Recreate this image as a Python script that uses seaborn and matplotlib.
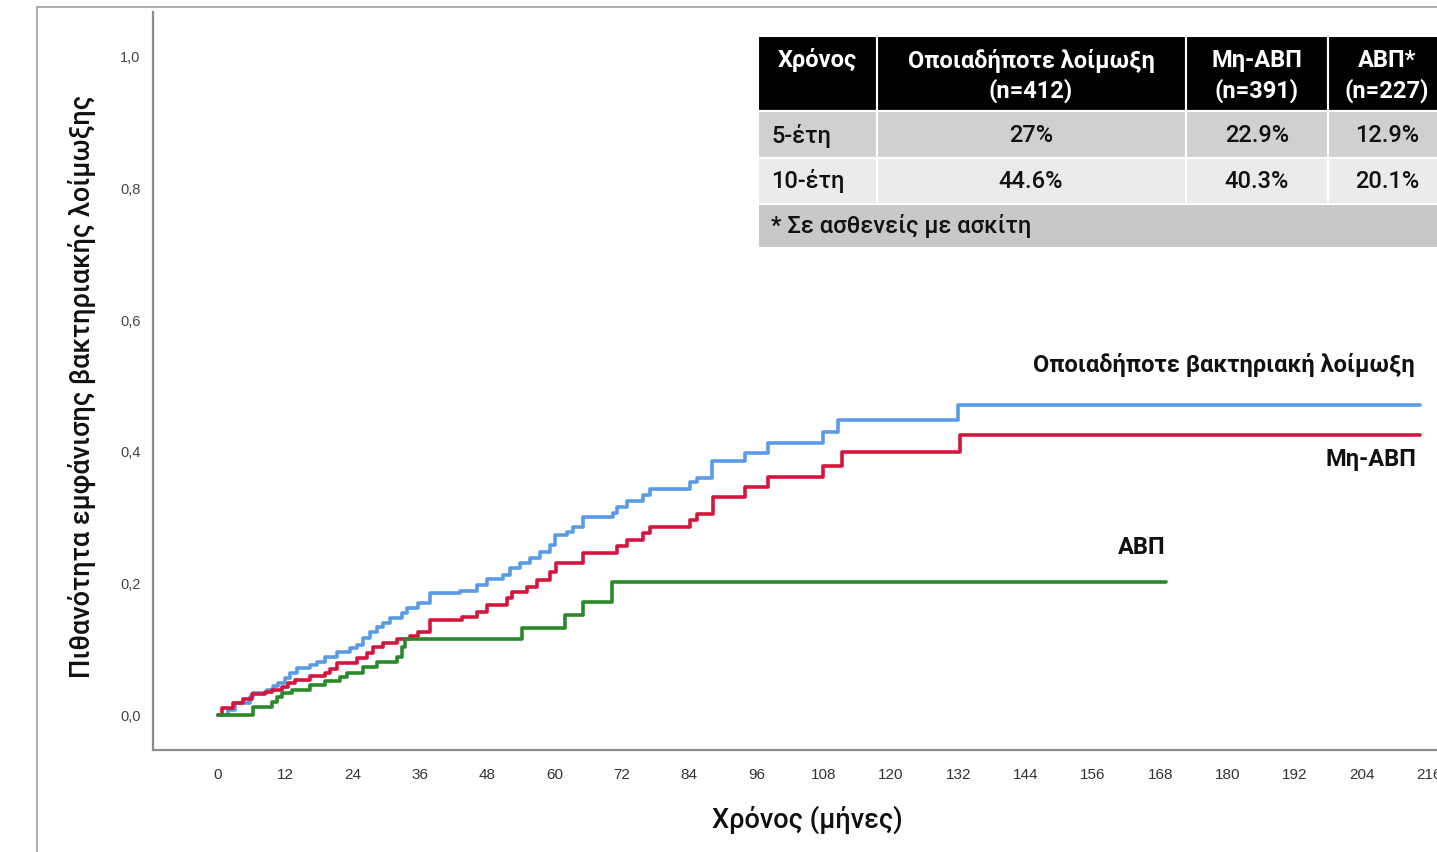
import numpy as np
import pandas as pd
import matplotlib
matplotlib.use("Agg")
import matplotlib.pyplot as plt
from matplotlib.patches import Rectangle
from matplotlib.lines import Line2D
import seaborn as sns

# Step curves (months, cumulative probability)
any_months = [0, 1.8, 3.0, 5.7, 6.2, 8.7, 9.8, 10.7, 11.9, 12.8, 14.1, 16.4, 17.6, 19.1, 21.2,
              23.5, 24.8, 25.8, 27.1, 28.3, 29.4, 30.7, 32.8, 33.7, 35.7, 37.8, 43.1, 46.2,
              47.9, 50.8, 52.0, 53.8, 55.6, 57.4, 59.2, 60.1, 62.2, 63.3, 65.1, 70.4, 71.1,
              72.9, 75.8, 77.0, 84.1, 85.4, 88.1, 93.9, 98.0, 107.8, 110.5, 131.9, 214.3]
any_prob = [0, 0.008, 0.018, 0.027, 0.033, 0.038, 0.044, 0.049, 0.056, 0.064, 0.071, 0.076,
            0.081, 0.088, 0.096, 0.102, 0.106, 0.117, 0.126, 0.134, 0.140, 0.147, 0.155,
            0.163, 0.170, 0.185, 0.188, 0.198, 0.207, 0.213, 0.223, 0.231, 0.239, 0.248,
            0.258, 0.274, 0.278, 0.286, 0.301, 0.307, 0.316, 0.325, 0.334, 0.343, 0.354,
            0.360, 0.386, 0.398, 0.413, 0.430, 0.448, 0.471, 0.471]

nonsbp_months = [0, 0.7, 2.7, 4.5, 6.1, 8.4, 9.6, 11.4, 12.5, 13.7, 16.4, 19.1, 20.0, 21.2,
                 24.8, 26.6, 27.6, 29.4, 31.9, 34.2, 35.7, 37.8, 43.5, 46.2, 47.9, 51.5, 52.4,
                 55.1, 56.9, 59.2, 60.2, 65.1, 71.1, 72.9, 75.8, 77.0, 84.1, 85.4, 88.2, 93.9,
                 98.0, 107.8, 111.2, 132.3, 214.3]
nonsbp_prob = [0, 0.011, 0.018, 0.024, 0.032, 0.035, 0.038, 0.043, 0.049, 0.053, 0.059, 0.064,
               0.070, 0.079, 0.087, 0.094, 0.103, 0.109, 0.116, 0.120, 0.126, 0.144, 0.149,
               0.157, 0.167, 0.178, 0.187, 0.195, 0.205, 0.217, 0.231, 0.246, 0.257, 0.266,
               0.277, 0.286, 0.296, 0.305, 0.331, 0.347, 0.362, 0.378, 0.400, 0.426, 0.426]

sbp_months = [0, 6.2, 9.6, 10.5, 11.4, 13.2, 16.4, 19.1, 21.7, 23.0, 25.8, 28.3, 31.9, 32.8,
              33.3, 54.2, 61.9, 65.1, 70.2, 169.0]
sbp_prob = [0, 0.012, 0.020, 0.027, 0.033, 0.038, 0.046, 0.052, 0.058, 0.064, 0.073, 0.081,
            0.088, 0.103, 0.116, 0.132, 0.152, 0.172, 0.202, 0.202]

group_names = ["Οποιαδήποτε βακτηριακή λοίμωξη", "Μη-ΑΒΠ", "ΑΒΠ"]
group_colors = ["#5b9be6", "#d5153d", "#2a8a2a"]

x_ticks = list(range(0, 217, 12))
y_ticks = [0.0, 0.2, 0.4, 0.6, 0.8, 1.0]
y_tick_labels = ["0,0", "0,2", "0,4", "0,6", "0,8", "1,0"]

# Table in the corner
table_header = ["Χρόνος", "Οποιαδήποτε λοίμωξη\n(n=412)", "Μη-ΑΒΠ\n(n=391)", "ΑΒΠ*\n(n=227)"]
table_rows = [["5-έτη", "27%", "22.9%", "12.9%"],
              ["10-έτη", "44.6%", "40.3%", "20.1%"]]
table_note = "* Σε ασθενείς με ασκίτη"


def buildFrame():
    parts = []
    for name, m, p in zip(group_names, [any_months, nonsbp_months, sbp_months],
                          [any_prob, nonsbp_prob, sbp_prob]):
        parts.append(pd.DataFrame({"month": m, "prob": p, "group": name}))
    return pd.concat(parts, ignore_index=True)


W, H = 1437, 852


def fx(px):
    return px / W


def fy(py):
    return 1 - py / H


sns.set_style("white")
plt.rcParams["font.family"] = ["Roboto", "DejaVu Sans"]

df = buildFrame()

fig = plt.figure(figsize=(W / 100, H / 100), dpi=100)

# outer frame
fig.add_artist(Line2D([fx(37), fx(37)], [0, fy(7)], color="#a0a0a0", lw=1.2))
fig.add_artist(Line2D([fx(37), 1], [fy(7), fy(7)], color="#a0a0a0", lw=1.2))

ax = fig.add_axes([fx(153), fy(750), fx(1463) - fx(153), fy(12) - fy(750)])
sns.lineplot(data=df, x="month", y="prob", hue="group", palette=dict(zip(group_names, group_colors)),
             estimator=None, sort=False, drawstyle="steps-post", linewidth=2.6, legend=False, ax=ax)

ax.set_xlim(-11.6, 222)
ax.set_ylim(-0.053, 1.068)
ax.set_xticks(x_ticks)
ax.set_xticklabels([str(t) for t in x_ticks], fontsize=11, color="#333333",
                   family=["Liberation Sans Narrow", "Liberation Sans", "DejaVu Sans"])
ax.set_yticks(y_ticks)
ax.set_yticklabels(y_tick_labels, fontsize=10.5, color="#444444", family=["Liberation Sans", "DejaVu Sans"])
ax.tick_params(axis="x", length=0, pad=13)
ax.tick_params(axis="y", length=0, pad=9)
for s in ["top", "right"]:
    ax.spines[s].set_visible(False)
for s in ["left", "bottom"]:
    ax.spines[s].set_color("#8c8c8c")
    ax.spines[s].set_linewidth(1.6)
ax.set_xlabel("")
ax.set_ylabel("")

fig.text(fx(807), fy(820), "Χρόνος (μήνες)", ha="center", va="center", fontsize=19.5,
         fontweight="medium", color="#111111")
fig.text(fx(82), fy(387), "Πιθανότητα εμφάνισης βακτηριακής λοίμωξης", ha="center", va="center",
         rotation=90, fontsize=19.5, fontweight="medium", color="#111111")

# curve labels
ax.text(213.4, 0.532, group_names[0], ha="right", va="center", fontsize=17, fontweight="bold", color="#111111")
ax.text(213.6, 0.389, group_names[1], ha="right", va="center", fontsize=17, fontweight="bold", color="#111111")
ax.text(169.0, 0.255, group_names[2], ha="right", va="center", fontsize=17, fontweight="bold", color="#111111")

# table drawn as patches
col_edges = [758, 877, 1186, 1328, 1470]
row_edges = [36, 111, 158, 204, 248]
row_fill = ["#000000", "#d0d0d0", "#ebebeb", "#c8c8c8"]
for r in range(4):
    y0, y1 = row_edges[r], row_edges[r + 1]
    if r == 3:
        fig.add_artist(Rectangle((fx(col_edges[0]), fy(y1)), fx(col_edges[-1]) - fx(col_edges[0]),
                                 fy(y0) - fy(y1), facecolor=row_fill[r], edgecolor="white", lw=1.5))
        continue
    for c in range(4):
        x0, x1 = col_edges[c], col_edges[c + 1]
        fig.add_artist(Rectangle((fx(x0), fy(y1)), fx(x1) - fx(x0), fy(y0) - fy(y1),
                                 facecolor=row_fill[r], edgecolor="white", lw=1.5))

col_centers = [817, 1031, 1257, 1387]
fig.text(fx(col_centers[0]), fy(60), table_header[0], ha="center", va="center",
         fontsize=17, fontweight="bold", color="white")
for c in range(1, 4):
    fig.text(fx(col_centers[c]), fy(76), table_header[c], ha="center", va="center",
             fontsize=17, fontweight="bold", color="white", linespacing=1.3)
for r, yy in zip(table_rows, [136, 181]):
    fig.text(fx(771), fy(yy), r[0], ha="left", va="center", fontsize=17, fontweight="medium", color="#111111")
    for c in range(1, 4):
        fig.text(fx(col_centers[c]), fy(yy), r[c], ha="center", va="center", fontsize=17,
                 fontweight="medium", color="#111111")
fig.text(fx(771), fy(226), table_note, ha="left", va="center", fontsize=17, fontweight="medium", color="#111111")

fig.savefig("out.png", dpi=100)
